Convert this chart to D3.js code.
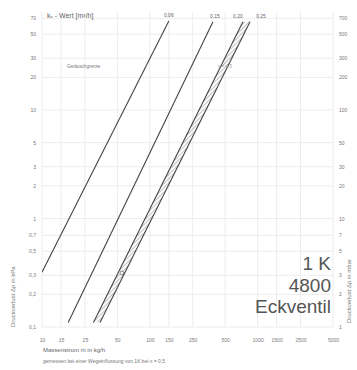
<!DOCTYPE html>
<html>
<head>
<meta charset="utf-8">
<script src="https://cdn.jsdelivr.net/npm/d3@7"></script>
<style>
  body { margin: 0; background: #fff; }
  text { font-family: "Liberation Sans", Arial, sans-serif; }
</style>
</head>
<body>
<div id="wrapper"></div>
<script>
// x axis: Massenstrom (kg/h), log scale
const xTicks = [10, 15, 25, 50, 100, 150, 250, 500, 1000, 1500, 2500, 5000];
// y axis: Druckverlust left (kPa) and right (mbar)
const yTicks = [0.1, 0.2, 0.3, 0.5, 0.7, 1, 2, 3, 5, 10, 20, 30, 50, 70];
const yTicksRight = [1, 2, 3, 5, 7, 10, 20, 30, 50, 100, 200, 300, 500, 700];

// kv lines, two end points each [m, dp]
const kvLabels = ["0,06", "0,15", "0,20", "0,25"];
const kvStart = [[10, 0.32], [17.5, 0.11], [30, 0.11], [34.5, 0.11]];
const kvEnd = [[150, 66], [385, 65], [730, 65], [850, 65]];
const labelShift = [0, 2, -5, 11];

// measured point on the band
const markPoint = [55, 0.315];

function draw() {
  const dimensions = {
    width: 357,
    height: 370,
    margin: { top: 12, right: 24, bottom: 43, left: 42 },
  };
  dimensions.boundedWidth = dimensions.width - dimensions.margin.left - dimensions.margin.right;
  dimensions.boundedHeight = dimensions.height - dimensions.margin.top - dimensions.margin.bottom;

  const svg = d3.select("#wrapper").append("svg")
    .attr("width", dimensions.width)
    .attr("height", dimensions.height);

  const defs = svg.append("defs");
  defs.append("clipPath").attr("id", "clip")
    .append("rect")
    .attr("width", dimensions.boundedWidth)
    .attr("height", dimensions.boundedHeight);
  const hatch = defs.append("pattern").attr("id", "hatch")
    .attr("patternUnits", "userSpaceOnUse")
    .attr("width", 3).attr("height", 3)
    .attr("patternTransform", "rotate(45)");
  hatch.append("line").attr("x1", 0).attr("y1", 0).attr("x2", 0).attr("y2", 3)
    .attr("stroke", "#888").attr("stroke-width", 1);

  const bounds = svg.append("g")
    .attr("transform", `translate(${dimensions.margin.left},${dimensions.margin.top})`);

  const xScale = d3.scaleLog().domain([10, 5000]).range([0, dimensions.boundedWidth]);
  const yScale = d3.scaleLog().domain([0.1, 80]).range([dimensions.boundedHeight, 0]);
  const yScaleRight = d3.scaleLog().domain([1, 800]).range([dimensions.boundedHeight, 0]);

  // grid
  bounds.append("g").selectAll("line").data(xTicks).join("line")
    .attr("x1", d => xScale(d)).attr("x2", d => xScale(d))
    .attr("y1", 0).attr("y2", dimensions.boundedHeight)
    .attr("stroke", "#ececec").attr("stroke-width", 1);
  bounds.append("g").selectAll("line").data(yTicks).join("line")
    .attr("y1", d => yScale(d)).attr("y2", d => yScale(d))
    .attr("x1", 0).attr("x2", dimensions.boundedWidth)
    .attr("stroke", "#ececec").attr("stroke-width", 1);

  // axes (labels only)
  const fmt = d => String(d).replace(".", ",");
  const xAxis = bounds.append("g")
    .attr("transform", `translate(0,${dimensions.boundedHeight + 8})`)
    .call(d3.axisBottom(xScale).tickValues(xTicks).tickFormat(fmt).tickSize(0));
  const yAxis = bounds.append("g")
    .attr("transform", "translate(-3,0)")
    .call(d3.axisLeft(yScale).tickValues(yTicks).tickFormat(fmt).tickSize(0));
  const yAxisR = bounds.append("g")
    .attr("transform", `translate(${dimensions.boundedWidth + 3},0)`)
    .call(d3.axisRight(yScaleRight).tickValues(yTicksRight).tickFormat(fmt).tickSize(0));
  [xAxis, yAxis, yAxisR].forEach(a => {
    a.select(".domain").remove();
    a.selectAll("text").attr("font-size", 5).attr("fill", "#777");
  });

  const plot = bounds.append("g").attr("clip-path", "url(#clip)");

  // hatched band between the two biggest kv lines
  const band = [kvStart[2], kvEnd[2], kvEnd[3], kvStart[3]];
  plot.append("path")
    .attr("d", d3.line().x(d => xScale(d[0])).y(d => yScale(d[1]))(band) + "Z")
    .attr("fill", "url(#hatch)");

  plot.selectAll(".kv").data(kvLabels).join("line")
    .attr("class", "kv")
    .attr("x1", (d, i) => xScale(kvStart[i][0]))
    .attr("y1", (d, i) => yScale(kvStart[i][1]))
    .attr("x2", (d, i) => xScale(kvEnd[i][0]))
    .attr("y2", (d, i) => yScale(kvEnd[i][1]))
    .attr("stroke", "#444").attr("stroke-width", 1.1);

  plot.append("circle")
    .attr("cx", xScale(markPoint[0])).attr("cy", yScale(markPoint[1]))
    .attr("r", 1.8).attr("fill", "#fff").attr("stroke", "#666").attr("stroke-width", 0.8);

  bounds.selectAll(".kvlab").data(kvLabels).join("text")
    .attr("class", "kvlab")
    .attr("x", (d, i) => xScale(kvEnd[i][0]) + labelShift[i])
    .attr("y", (d, i) => yScale(kvEnd[i][1]) - 4)
    .attr("text-anchor", "middle")
    .attr("font-size", 5).attr("fill", "#666")
    .text(d => d);

  // small notes inside the plot
  bounds.append("text").attr("x", 25).attr("y", 56)
    .attr("font-size", 4.5).attr("fill", "#777").text("Geräuschgrenze");
  bounds.append("text").attr("x", 176).attr("y", 56)
    .attr("font-size", 4.5).attr("fill", "#999").text("n = 4,5");

  // top title
  svg.append("text").attr("x", 47).attr("y", 18)
    .attr("font-size", 7).attr("fill", "#666")
    .text("k\u1D65 - Wert  [m³/h]");

  // big label
  const big = svg.append("g").attr("fill", "#555").attr("font-size", 19).attr("text-anchor", "end");
  ["1 K", "4800", "Eckventil"].forEach((t, i) => {
    big.append("text").attr("x", 331).attr("y", 270 + i * 21.5).text(t);
  });

  // axis titles
  svg.append("text")
    .attr("transform", "translate(15,327) rotate(-90)")
    .attr("font-size", 6).attr("fill", "#777")
    .text("Druckverlust Δp in kPa");
  svg.append("text")
    .attr("transform", "translate(351,323) rotate(-90)")
    .attr("font-size", 6).attr("fill", "#777")
    .text("Druckverlust Δp in mbar");

  svg.append("text").attr("x", 43).attr("y", 352)
    .attr("font-size", 6).attr("fill", "#666")
    .text("Massenstrom ṁ in kg/h");
  svg.append("text").attr("x", 43).attr("y", 363)
    .attr("font-size", 5).attr("fill", "#777")
    .text("gemessen bei einer Wegeinflussung von 1K     bei x = 0,5");
}
draw();
</script>
</body>
</html>
